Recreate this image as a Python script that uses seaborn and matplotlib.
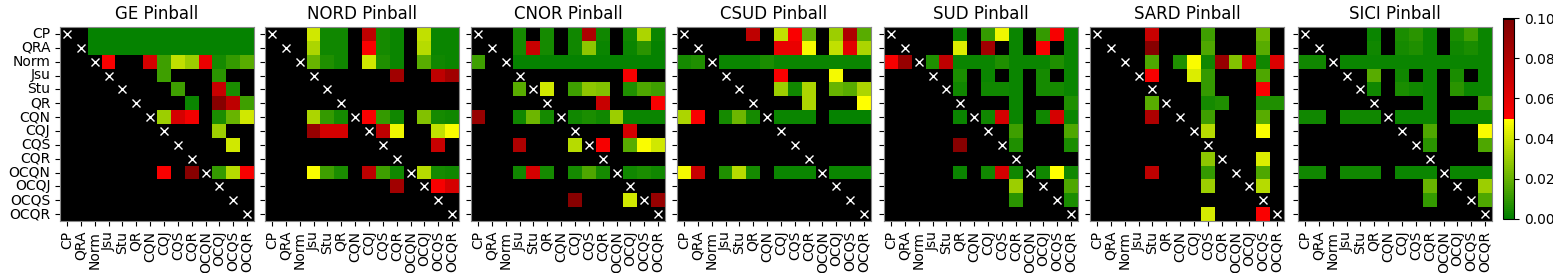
import numpy as np
import matplotlib
matplotlib.use("Agg")
import matplotlib.pyplot as plt
import matplotlib as mpl
import seaborn as sns

labels = ["CP", "QRA", "Norm", "Jsu", "Stu", "QR", "CQN", "CQJ", "CQS", "CQR",
          "OCQN", "OCQJ", "OCQS", "OCQR"]
markets = ["GE", "NORD", "CNOR", "CSUD", "SUD", "SARD", "SICI"]
B = 1.0  # not significant (p-value >= 0.1)

GE = [
    [B, B, .001, .001, .001, .001, .001, .001, .001, .001, .001, .001, .001, .001],
    [B, B, .001, .001, .001, .001, .001, .001, .001, .001, .001, .001, .001, .001],
    [B, B, B, .052, B, B, .065, .012, .038, .030, .058, .004, .010, .018],
    [B, B, B, B, B, B, B, .012, B, B, B, .008, B, B],
    [B, B, B, B, B, B, B, B, .012, B, B, .070, .005, B],
    [B, B, B, B, B, B, B, B, B, .002, B, .095, .075, .013],
    [B, B, B, B, B, B, B, .030, .065, .055, B, .005, .020, .040],
    [B, B, B, B, B, B, B, B, B, B, B, .030, B, B],
    [B, B, B, B, B, B, B, B, B, B, B, B, .040, B],
    [B, B, B, B, B, B, B, B, B, B, B, B, B, B],
    [B, B, B, B, B, B, B, .052, B, .095, B, .010, .035, .053],
    [B, B, B, B, B, B, B, B, B, B, B, B, B, B],
    [B, B, B, B, B, B, B, B, B, B, B, B, B, B],
    [B, B, B, B, B, B, B, B, B, B, B, B, B, B],
]

NORD = [
    [B, B, B, .040, .003, .003, B, .075, .004, .002, B, .038, .002, .002],
    [B, B, B, .033, .003, .003, B, .052, .004, .002, B, .035, .002, .002],
    [B, B, B, .020, .006, .003, B, .040, .006, .002, B, .018, .003, .002],
    [B, B, B, B, B, B, B, B, B, .085, B, B, .075, .085],
    [B, B, B, B, B, B, B, B, B, B, B, B, B, B],
    [B, B, B, B, B, B, B, B, B, B, B, B, B, B],
    [B, B, B, .033, .010, .004, B, .052, .010, .003, B, .025, .004, .003],
    [B, B, B, .090, .065, .065, B, B, .075, .046, B, B, .038, .048],
    [B, B, B, B, B, B, B, B, B, B, B, B, .070, B],
    [B, B, B, B, B, B, B, B, B, B, B, B, B, B],
    [B, B, B, .048, .012, .005, B, .075, .013, .003, B, .036, .004, .003],
    [B, B, B, B, B, B, B, B, B, .085, B, B, .053, .065],
    [B, B, B, B, B, B, B, B, B, B, B, B, B, B],
    [B, B, B, B, B, B, B, B, B, B, B, B, B, B],
]

CNOR = [
    [B, B, B, .004, B, .004, B, .003, .080, .003, B, .003, .033, .002],
    [B, B, B, .004, .070, .004, B, .003, .028, .002, B, .002, .008, .001],
    [.013, B, B, .001, .001, .001, .001, .001, .001, .001, .001, .001, .001, .001],
    [B, B, B, B, B, B, B, B, B, B, B, .053, B, B],
    [B, B, B, .018, B, .040, B, .012, .028, .025, B, .006, .015, .013],
    [B, B, B, B, B, B, B, B, B, .070, B, B, B, .052],
    [.090, B, B, .003, .022, .004, B, .003, .005, .003, .030, .002, .002, .002],
    [B, B, B, B, B, B, B, B, B, B, B, .065, B, B],
    [B, B, B, .080, B, B, B, .035, B, .053, B, .018, .048, .040],
    [B, B, B, B, B, B, B, B, B, B, B, B, B, B],
    [B, B, B, .003, .065, .004, B, .004, .015, .004, B, .003, .005, .003],
    [B, B, B, B, B, B, B, B, B, B, B, B, B, B],
    [B, B, B, B, B, B, B, .095, B, B, B, .040, B, .090],
    [B, B, B, B, B, B, B, B, B, B, B, B, B, B],
]

CSUD = [
    [B, B, B, B, B, .075, B, .038, .052, .020, B, .030, .080, .018],
    [B, B, B, B, B, B, B, .058, .058, .047, B, .038, .060, .033],
    [.004, .007, B, .002, .002, .002, .005, .002, .002, .002, .002, .002, .002, .002],
    [B, B, B, B, B, B, B, .052, B, B, B, .047, B, B],
    [B, B, B, B, B, B, B, .030, .003, .033, B, .020, .018, .033],
    [B, B, B, B, B, B, B, B, B, .033, B, B, B, .049],
    [.033, .052, B, .004, .022, .004, B, .002, .002, .002, B, .001, .001, .001],
    [B, B, B, B, B, B, B, B, B, B, B, B, B, B],
    [B, B, B, B, B, B, B, B, B, B, B, B, B, B],
    [B, B, B, B, B, B, B, B, B, B, B, B, B, B],
    [.047, .070, B, .007, .036, .004, B, .002, .002, .002, B, .002, .002, .002],
    [B, B, B, B, B, B, B, B, B, B, B, B, B, B],
    [B, B, B, B, B, B, B, B, B, B, B, B, B, B],
    [B, B, B, B, B, B, B, B, B, B, B, B, B, B],
]

SUD = [
    [B, B, B, B, B, .002, B, .010, .046, .002, B, .010, .053, .002],
    [B, B, B, B, B, .043, B, .085, B, .002, B, .052, B, .002],
    [.053, .090, B, .006, .075, .002, .002, .002, .006, .002, .002, .002, .007, .002],
    [B, B, B, B, B, .005, B, .002, B, .002, B, .004, B, .002],
    [B, B, B, B, B, .003, B, .003, .003, .002, B, .004, .004, .002],
    [B, B, B, B, B, B, B, B, B, .002, B, B, B, .007],
    [B, B, B, B, B, .002, B, .003, .065, .002, B, .003, .065, .002],
    [B, B, B, B, B, B, B, B, B, .013, B, B, B, .015],
    [B, B, B, B, B, .095, B, B, B, .007, B, B, B, .005],
    [B, B, B, B, B, B, B, B, B, B, B, B, B, B],
    [B, B, B, B, B, .002, B, .003, .065, .003, B, .003, .049, .003],
    [B, B, B, B, B, B, B, B, B, .030, B, B, B, .015],
    [B, B, B, B, B, B, B, B, B, .008, B, B, B, .005],
    [B, B, B, B, B, B, B, B, B, B, B, B, B, B],
]

SARD = [
    [B, B, B, B, .070, B, B, B, .012, B, B, B, .022, B],
    [B, B, B, B, .095, B, B, B, .015, B, B, B, .017, B],
    [B, B, B, B, .015, B, .007, .048, .003, .090, .025, .065, .003, .062],
    [B, B, B, B, .053, B, B, .043, .010, B, B, B, .015, B],
    [B, B, B, B, B, B, B, B, .010, B, B, B, .052, B],
    [B, B, B, B, .018, B, B, B, .004, .006, B, B, .006, .006],
    [B, B, B, B, .080, B, B, B, .012, B, B, B, .017, B],
    [B, B, B, B, B, B, B, B, .036, B, B, B, .048, B],
    [B, B, B, B, B, B, B, B, B, B, B, B, B, B],
    [B, B, B, B, B, B, B, B, .028, B, B, B, .043, B],
    [B, B, B, B, .075, B, B, B, .010, B, B, B, .015, B],
    [B, B, B, B, B, B, B, B, .030, B, B, B, .036, B],
    [B, B, B, B, B, B, B, B, B, B, B, B, B, B],
    [B, B, B, B, B, B, B, B, .041, B, B, B, .052, B],
]

SICI = [
    [B, B, B, B, B, .002, B, .005, .008, .002, B, .005, .012, .002],
    [B, B, B, B, B, .003, B, .004, .006, .002, B, .003, .005, .002],
    [.003, .003, B, .002, .002, .002, .002, .002, .002, .002, .002, .002, .002, .002],
    [B, B, B, B, B, .018, B, .003, B, .002, B, .005, B, .002],
    [B, B, B, B, B, .003, B, .005, .003, .002, B, .008, .002, .002],
    [B, B, B, B, B, B, B, B, B, .002, B, B, B, .013],
    [.003, .003, B, .003, .003, .003, B, .002, .002, .002, B, .002, .002, .002],
    [B, B, B, B, B, B, B, B, B, .015, B, B, B, .048],
    [B, B, B, B, B, B, B, B, B, .008, B, B, B, .015],
    [B, B, B, B, B, B, B, B, B, B, B, B, B, B],
    [.003, .003, B, .003, .003, .003, B, .002, .002, .002, B, .002, .002, .002],
    [B, B, B, B, B, B, B, B, B, .020, B, B, B, .030],
    [B, B, B, B, B, B, B, B, B, .010, B, B, B, .015],
    [B, B, B, B, B, B, B, B, B, B, B, B, B, B],
]

matrices = [GE, NORD, CNOR, CSUD, SUD, SARD, SICI]

# epftoolbox-style green-yellow-red-black colormap
red = np.concatenate([np.linspace(0, 1, 50), np.linspace(1, 0.5, 50)[1:], [0]])
green = np.concatenate([np.linspace(0.5, 1, 50), np.zeros(50)])
blue = np.zeros(100)
cmap = mpl.colors.ListedColormap(np.stack([red, green, blue], axis=1))

W, H = 1553, 273
fig = plt.figure(figsize=(W / 100, H / 100), dpi=100)

lefts = [60, 265, 471, 677, 884, 1090, 1298]
axw, axh = 194, 194
bottom = 52

mappable = None
for k, (name, mat) in enumerate(zip(markets, matrices)):
    ax = fig.add_axes([lefts[k] / W, bottom / H, axw / W, axh / H])
    arr = np.array(mat, dtype=float)
    sns.heatmap(arr, ax=ax, cmap=cmap, vmin=0, vmax=0.1, cbar=False,
                xticklabels=labels, yticklabels=labels if k == 0 else False)
    n = len(labels)
    ax.plot(np.arange(n) + 0.5, np.arange(n) + 0.5, 'wx', markersize=6)
    if k != 0:
        ax.set_yticks(np.arange(n) + 0.5)
        ax.set_yticklabels([])
    ax.tick_params(axis='x', rotation=90, labelsize=10, length=3.5)
    ax.tick_params(axis='y', rotation=0, labelsize=10, length=3.5)
    for s in ax.spines.values():
        s.set_visible(True)
        s.set_color('#888888')
        s.set_linewidth(0.8)
    ax.set_title(f"{name} Pinball", fontsize=12)
    mappable = ax.collections[0]

cax = fig.add_axes([1503 / W, 54 / H, 11 / W, 201 / H])
cb = fig.colorbar(mappable, cax=cax)
cb.set_ticks([0.0, 0.02, 0.04, 0.06, 0.08, 0.10])
cb.ax.set_yticklabels(["0.00", "0.02", "0.04", "0.06", "0.08", "0.10"])
cb.ax.tick_params(labelsize=10)
cb.outline.set_linewidth(0.8)

fig.savefig("out.png", dpi=100)
